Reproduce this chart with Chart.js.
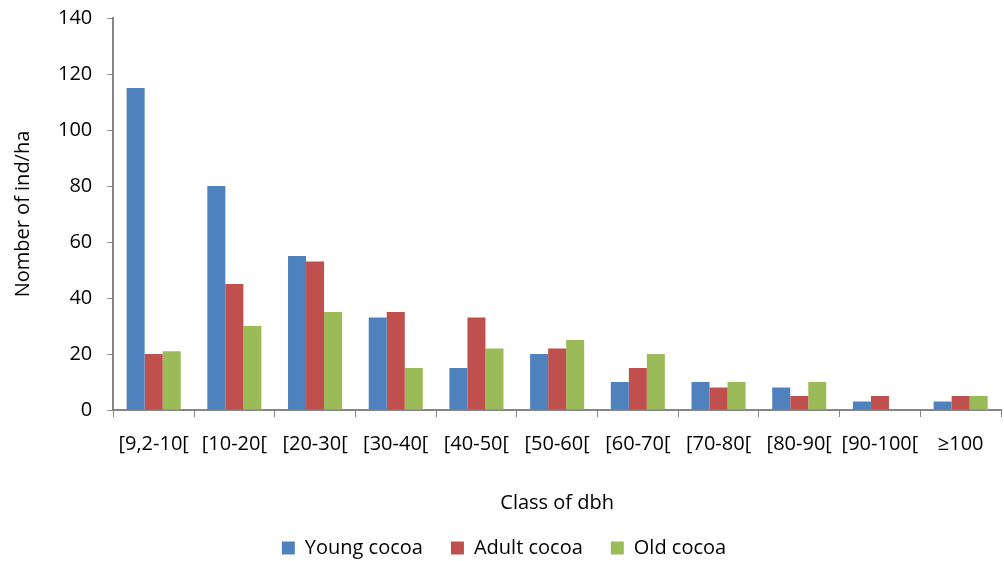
<!DOCTYPE html>
<html><head><meta charset="utf-8">
<script src="https://cdn.jsdelivr.net/npm/chart.js@4/dist/chart.umd.min.js"></script>
<style>html,body{margin:0;padding:0;background:#fff;}#w{width:1004px;height:561px;position:relative;}</style>
</head><body><div id="w"><canvas id="c"></canvas></div>
<script>
const categories = ['[9,2-10[', '[10-20[', '[20-30[', '[30-40[', '[40-50[', '[50-60[', '[60-70[', '[70-80[', '[80-90[', '[90-100[', '≥100'];
const youngCocoa = [115, 80, 55, 33, 15, 20, 10, 10, 8, 3, 3];
const adultCocoa = [20, 45, 53, 35, 33, 22, 15, 8, 5, 5, 5];
const oldCocoa = [21, 30, 35, 15, 22, 25, 20, 10, 10, 0, 5];
const yTicks = [0, 20, 40, 60, 80, 100, 120, 140];

const F = "'Open Sans', 'Liberation Sans', sans-serif";
const S = 20;
new Chart(document.getElementById('c'), {
  type: 'bar',
  data: {
    labels: categories,
    datasets: [
      {label: 'Young cocoa', data: youngCocoa, backgroundColor: '#4F81BD'},
      {label: 'Adult cocoa', data: adultCocoa, backgroundColor: '#C0504D'},
      {label: 'Old cocoa', data: oldCocoa, backgroundColor: '#9BBB59'}
    ]
  },
  options: {
    responsive: true, maintainAspectRatio: false, animation: false,
    layout: {padding: {left: 7, right: 3, top: 0, bottom: -7}},
    datasets: {bar: {categoryPercentage: 0.67, barPercentage: 1}},
    plugins: {
      tooltip: {enabled: false},
      legend: {position: 'bottom', labels: {font: {family: F, size: S}, color: '#000', boxWidth: 13, boxHeight: 13, padding: 28}},
    },
    scales: {
      x: {
        grid: {display: true, drawOnChartArea: false, drawTicks: true, tickLength: 7, color: '#868686', offset: true},
        border: {color: '#868686', width: 2},
        ticks: {font: {family: F, size: S}, color: '#000', padding: 15, maxRotation: 0, autoSkip: false},
        title: {display: true, text: 'Class of dbh', font: {family: F, size: S}, color: '#000', padding: {top: 20, bottom: -5}}
      },
      y: {
        min: 0, max: 140,
        afterBuildTicks: ax => { ax.ticks = yTicks.map(v => ({value: v})); },
        grid: {display: true, drawOnChartArea: false, drawTicks: true, tickLength: 6, color: '#868686'},
        border: {color: '#868686', width: 2},
        ticks: {font: {family: F, size: S, lineHeight: 0.3}, color: '#000', padding: 15},
        title: {display: true, text: 'Nomber of ind/ha', font: {family: F, size: S}, color: '#000', padding: {bottom: 8}}
      }
    }
  }
});
</script></body></html>
